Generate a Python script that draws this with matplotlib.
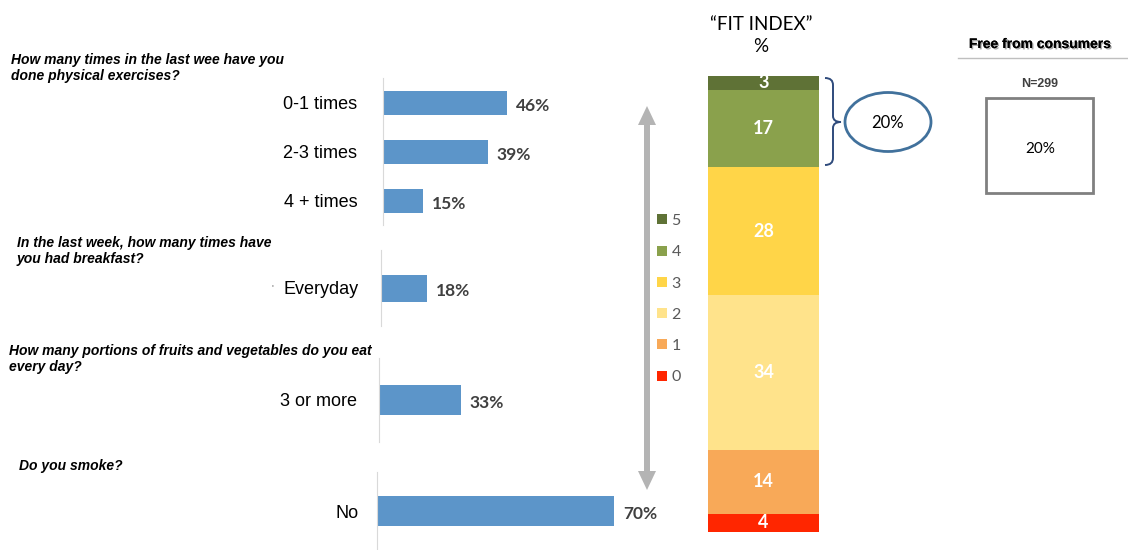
import numpy as np
import matplotlib
matplotlib.use('Agg')
import matplotlib.pyplot as plt
from matplotlib import patches, patheffects
from matplotlib.path import Path

# survey answers (% of respondents)
exercise_labels = ['0-1 times', '2-3 times', '4 + times']
exercise_pct = [46, 39, 15]
breakfast_labels = ['Everyday']
breakfast_pct = [18]
fruit_labels = ['3 or more']
fruit_pct = [33]
smoke_labels = ['No']
smoke_pct = [70]

# fit index distribution, level 0 at the bottom
fit_levels = ['0', '1', '2', '3', '4', '5']
fit_pct = [4, 14, 34, 28, 17, 3]
fit_colors = ['#FF2600', '#F8A958', '#FFE38B', '#FFD548', '#8AA14C', '#5F7236']

consumer_n = 299
consumer_share = 20

questions = [
    'How many times in the last wee have you\ndone physical exercises?',
    'In the last week, how many times have\nyou had breakfast?',
    'How many portions of fruits and vegetables do you eat\nevery day?',
    'Do you smoke?',
]

W, H = 1128, 550
fig = plt.figure(figsize=(W / 100, H / 100), dpi=100)
BLUE = '#5C95C9'


def px_axes(x0, y0, x1, y1):
    # axes placed by pixel box, y measured from the top
    return fig.add_axes([x0 / W, 1 - y1 / H, (x1 - x0) / W, (y1 - y0) / H])


def hbar_group(labels, values, box, px_per_pct, bar_px, pad):
    x0, y0, x1, y1 = box
    ax = px_axes(x0, y0, x1, y1)
    n = len(values)
    slot = (y1 - y0) / n
    pos = np.arange(n)
    bars = ax.barh(pos, values, height=bar_px / slot, color=BLUE)
    ax.set_ylim(n - 0.5, -0.5)
    ax.set_xlim(0, (x1 - x0) / px_per_pct)
    ax.set_yticks(pos, labels, fontsize=13, family='Liberation Sans')
    ax.tick_params(axis='y', length=0, pad=pad)
    ax.set_xticks([])
    for s in ['top', 'right', 'bottom']:
        ax.spines[s].set_visible(False)
    ax.spines['left'].set_color('#D9D9D9')
    anns = ax.bar_label(bars, labels=[f'{v}%' for v in values], padding=6.5,
                        fontsize=12.5, fontweight='bold', color='#404040',
                        family='Lato')
    for a in anns:
        a.xyann = (6.5, -2.2)
    ax.patch.set_alpha(0)
    return ax


hbar_group(exercise_labels, exercise_pct, (383, 78, 660, 225), 2.69, 24, 18.5)
hbar_group(breakfast_labels, breakfast_pct, (381, 250, 660, 326), 2.56, 27, 16)
hbar_group(fruit_labels, fruit_pct, (379, 358, 660, 442), 2.48, 30, 16)
hbar_group(smoke_labels, smoke_pct, (377, 472, 660, 550), 3.39, 30, 13.5)

# stacked fit index column
axs = px_axes(708, 76, 819, 532)
bottom = 0
for lvl, v, c in zip(fit_levels, fit_pct, fit_colors):
    b = axs.bar(0, v, bottom=bottom, width=1, color=c, label=lvl)
    axs.bar_label(b, labels=[str(v)], label_type='center', color='white',
                  fontweight='bold', fontsize=13, family='Lato')
    bottom += v
axs.set_xlim(-0.5, 0.5)
axs.set_ylim(0, 100)
axs.axis('off')

h, l = axs.get_legend_handles_labels()
fig.legend(h[::-1], l[::-1], loc='upper left',
           bbox_to_anchor=(657 / W, 1 - 214 / H), frameon=False,
           prop={'family': 'Lato', 'size': 11.5}, labelcolor='#595959',
           handlelength=0.6, handleheight=0.6, handletextpad=0.3,
           labelspacing=1.08, borderpad=0, borderaxespad=0)

# overlay in pixel coordinates for arrows, shapes and free text
ov = px_axes(0, 0, W, H)
ov.set_xlim(0, W)
ov.set_ylim(H, 0)
ov.axis('off')

# baseline of the last line of each question
q_pos = [(11, 80), (17, 263), (9, 371), (19, 470)]
for (x, y), q in zip(q_pos, questions):
    ov.text(x, y, q, fontsize=10, fontweight='bold', fontstyle='italic',
            family='Liberation Sans', va='baseline', ha='left')
ov.text(272, 289, "'", fontsize=5, color='#404040', ha='center')

# double-headed grey arrow
mid = (106 + 490) / 2
for tip in (106, 490):
    ov.add_patch(patches.FancyArrow(647, mid, 0, tip - mid, width=6,
                                    head_width=18, head_length=19,
                                    length_includes_head=True,
                                    color='#B4B4B4', lw=0))

ov.text(761, 25, '\u201cFIT INDEX\u201d', fontsize=13.5, family='Lato',
        ha='center', va='center')
ov.text(761, 47, '%', fontsize=13.5, family='Lato', ha='center', va='center')

# curly bracket around levels 4 and 5
verts = [(825, 78), (833, 78), (833, 85), (833, 116), (833, 122), (841, 122),
         (833, 122), (833, 128), (833, 158), (833, 165), (825, 165)]
codes = [Path.MOVETO, Path.CURVE3, Path.CURVE3, Path.LINETO, Path.CURVE3,
         Path.CURVE3, Path.CURVE3, Path.CURVE3, Path.LINETO, Path.CURVE3,
         Path.CURVE3]
ov.add_patch(patches.PathPatch(Path(verts, codes), fill=False,
                               edgecolor='#2F4B7C', lw=1.4))
top_share = fit_pct[4] + fit_pct[5]
ov.add_patch(patches.Ellipse((888, 122), 86, 59, fill=False,
                             edgecolor='#41719C', lw=2))
ov.text(888, 123, f'{top_share}%', fontsize=12, family='Lato',
        ha='center', va='center')

# right-hand panel
ov.text(1040, 44, 'Free from consumers', fontsize=10, fontweight='bold',
        family='Liberation Sans', ha='center', va='center',
        path_effects=[patheffects.withSimplePatchShadow(offset=(1, -1),
                                                        alpha=0.35),
                      patheffects.Normal()])
ov.plot([958, 1128], [58, 58], color='#BFBFBF', lw=1)
ov.text(1040, 84, f'N={consumer_n}', fontsize=9, fontweight='bold',
        family='Liberation Sans', color='#404040', ha='center', va='center')
ov.add_patch(patches.Rectangle((986, 98), 107, 95, fill=False,
                               edgecolor='#808080', lw=2))
ov.text(1040, 149, f'{consumer_share}%', fontsize=11, family='Lato',
        ha='center', va='center')

fig.savefig('out.png', dpi=100)
